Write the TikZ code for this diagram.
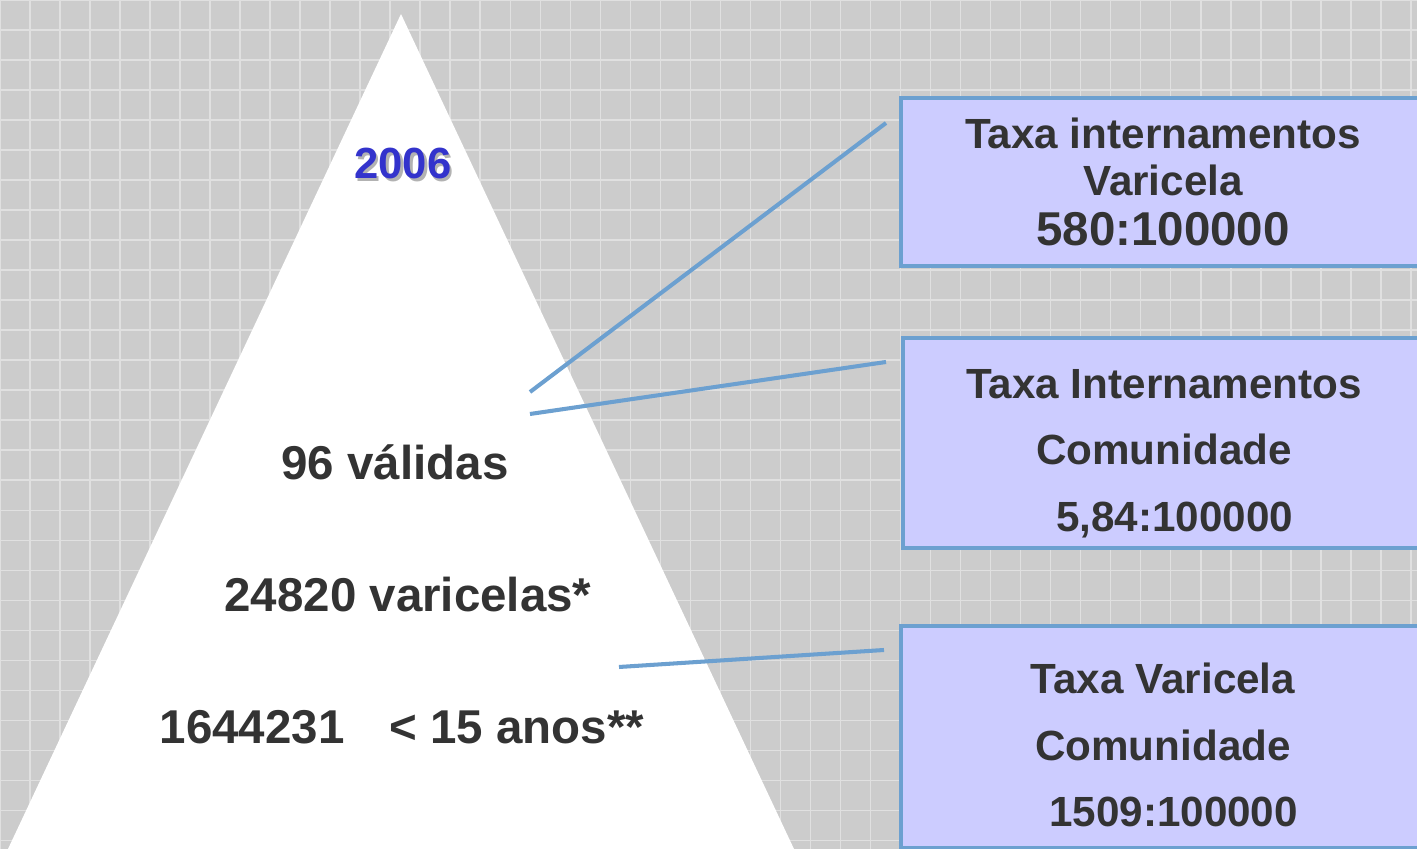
\documentclass[tikz,border=0pt]{standalone}
\usepackage{fontspec}
\setmainfont{Liberation Sans}
\definecolor{bggrey}{RGB}{204,204,204}
\definecolor{linkblue}{RGB}{108,160,208}
\definecolor{boxfill}{RGB}{204,204,255}
\definecolor{textgrey}{RGB}{51,51,51}
\definecolor{yearblue}{RGB}{51,51,204}
\begin{document}
\begin{tikzpicture}[x=0.01cm,y=-0.01cm,
  every node/.style={font=\bfseries, text=textgrey, inner sep=0pt},
  infobox/.style={draw=linkblue, line width=1.15pt, fill=boxfill, align=center, minimum width=5.24cm},
  pyrtext/.style={font=\bfseries\fontsize{13.5}{16}\selectfont},
  link/.style={draw=linkblue, line width=1.15pt}]
\useasboundingbox (0,0) rectangle (1417,849);
\clip (0,0) rectangle (1417,849);
% background
\fill [bggrey] (0,0) rectangle (1417,849);
\draw [white, opacity=0.4, line width=0.45pt, step=0.3cm] (0,0) grid (1417,849);
% pyramid
\fill [white] (401,14) -- (8,849) -- (794,849) -- cycle;
\node [font=\bfseries\fontsize{12.4}{15}\selectfont, text=gray!60] (yearshadow) at (405.5,166) {2006};
\node [font=\bfseries\fontsize{12.4}{15}\selectfont, text=yearblue] (year) at (403,163) {2006};
\node [pyrtext] (valid) at (395,462) {96 válidas};
\node [pyrtext] (cases) at (408,595) {24820 varicelas*};
\node [pyrtext] (kids) at (402,727) {1644231\hspace{0.95em}< 15 anos**};
% boxes
\node [infobox, minimum height=1.68cm, font=\bfseries\fontsize{12}{13.4}\selectfont] (hosp) at (1163,182)
  {Taxa internamentos\\Varicela\\[1pt]{\fontsize{13.5}{16}\selectfont 580:100000}};
\node [infobox, minimum height=2.09cm, minimum width=5.22cm, font=\bfseries\fontsize{12}{18.9}\selectfont] (comm) at (1164,443)
  {\rule{0pt}{14.3pt}Taxa Internamentos\\Comunidade\\\hspace*{0.5em}5,84:100000};
\node [infobox, minimum height=2.22cm, font=\bfseries\fontsize{12}{18.9}\selectfont] (rate) at (1163,737)
  {\rule{0pt}{13.2pt}Taxa Varicela\\Comunidade\\\hspace*{0.5em}1509:100000};
% connectors
\coordinate (hospend) at (886,123);
\coordinate (hospfoot) at (530,392);
\coordinate (commend) at (886,362);
\coordinate (commfoot) at (530,414);
\coordinate (rateend) at (884,650);
\coordinate (ratefoot) at (619,667);
\draw [link] (hospfoot) -- (hospend);
\draw [link] (commfoot) -- (commend);
\draw [link] (ratefoot) -- (rateend);
\end{tikzpicture}
\end{document}
